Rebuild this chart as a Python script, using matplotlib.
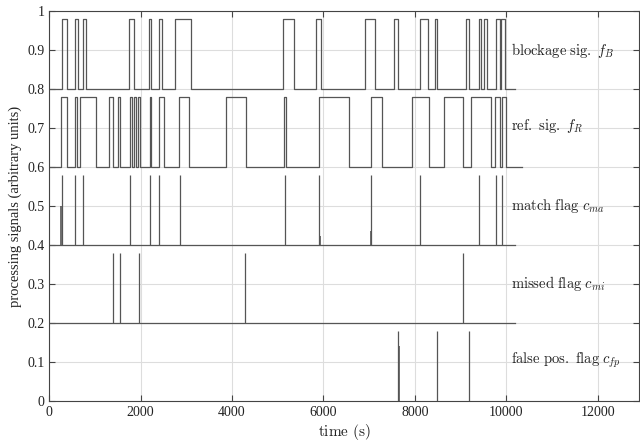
import numpy as np
import matplotlib
matplotlib.use("Agg")
import matplotlib.pyplot as plt

plt.rcParams['mathtext.fontset'] = 'cm'
plt.rcParams['font.family'] = ['Liberation Serif', 'DejaVu Serif']

# pulse edges (on, off) in seconds
blockage_pulses = [(278, 387), (568, 619), (737, 802), (1755, 1865), (2179, 2230),
                   (2411, 2470), (2754, 3097), (5121, 5362), (5836, 5939), (6914, 7119),
                   (7541, 7635), (8116, 8299), (8437, 8496), (9130, 9187), (9399, 9458),
                   (9515, 9580), (9770, 9858), (9885, 9975)]
blockage_end = 10200

ref_pulses = [(256, 387), (553, 605), (678, 1021), (1311, 1392), (1508, 1552),
              (1764, 1821), (1865, 1895), (1939, 1989), (2208, 2230), (2411, 2520),
              (2848, 3053), (3869, 4299), (5143, 5173), (5910, 6565), (7039, 7273),
              (7930, 8315), (8640, 9062), (9227, 9665), (9753, 9862), (9898, 9985)]
ref_end = 10340

match_t = [278, 553, 737, 1770, 2215, 2411, 2856, 5158, 5908, 7038, 8116, 9406, 9770, 9917]
match_small_t = [265, 5920, 7045]
match_small_h = [0.10, 0.024, 0.035]
missed_t = [1392, 1537, 1961, 4291, 9056]
fp_t = [7635, 8496, 9180]
fp_small_t = [7645]
fp_small_h = [0.14]

flag_end = 10200
pulse_h = 0.18

labels = [r"$\mathrm{blockage\ sig.}\ f_B$", r"$\mathrm{ref.\ sig.}\ f_R$",
          r"$\mathrm{match\ flag}\ c_{ma}$", r"$\mathrm{missed\ flag}\ c_{mi}$",
          r"$\mathrm{false\ pos.\ flag}\ c_{fp}$"]
label_y = [0.9, 0.705, 0.5, 0.3, 0.105]


def step_signal(pulses, base, end):
    xs, ys = [0], [base]
    for on, off in pulses:
        xs += [on, on, off, off]
        ys += [base, base + pulse_h, base + pulse_h, base]
    xs.append(end)
    ys.append(base)
    return np.array(xs), np.array(ys)


col = '#555555'
fig = plt.figure(figsize=(6.4, 4.41), dpi=100)
ax = fig.add_axes([0.077, 0.091, 0.921, 0.884])

x, y = step_signal(blockage_pulses, 0.8, blockage_end)
ax.plot(x, y, color=col, lw=0.9)
x, y = step_signal(ref_pulses, 0.6, ref_end)
ax.plot(x, y, color=col, lw=0.9)

ax.plot([0, flag_end], [0.4, 0.4], color=col, lw=0.9)
ax.vlines(match_t, 0.4, 0.4 + pulse_h, color=col, lw=0.9)
ax.vlines(match_small_t, 0.4, 0.4 + np.array(match_small_h), color=col, lw=1.2)
ax.plot([0, flag_end], [0.2, 0.2], color=col, lw=0.9)
ax.vlines(missed_t, 0.2, 0.2 + pulse_h, color=col, lw=0.9)
ax.vlines(fp_t, 0.0, pulse_h, color=col, lw=0.9)
ax.vlines(fp_small_t, 0.0, np.array(fp_small_h), color=col, lw=1.2)

for lab, yy in zip(labels, label_y):
    ax.text(10100, yy, lab, fontsize=10.5, va='center', ha='left', color='#222222')

ax.set_xlim(0, 12900)
ax.set_ylim(0, 1)
ax.set_xticks(np.arange(0, 12001, 2000))
ax.set_yticks(np.round(np.arange(0, 1.01, 0.1), 1))
ax.set_yticklabels(['0', '0.1', '0.2', '0.3', '0.4', '0.5', '0.6', '0.7', '0.8', '0.9', '1'])
ax.grid(True, color='#dddddd', lw=0.8)
ax.set_axisbelow(True)
ax.tick_params(direction='in', top=True, right=True, length=4, labelsize=10,
               color='#444444', labelcolor='#222222')
for s in ax.spines.values():
    s.set_color('#444444')
    s.set_linewidth(0.8)

ax.set_xlabel(r"$\mathrm{time\ (s)}$", fontsize=11, color='#222222', labelpad=2)
ax.set_ylabel("processing signals (arbitrary units)", fontsize=10.5, color='#222222', labelpad=4)

fig.savefig("out.png", dpi=100)
